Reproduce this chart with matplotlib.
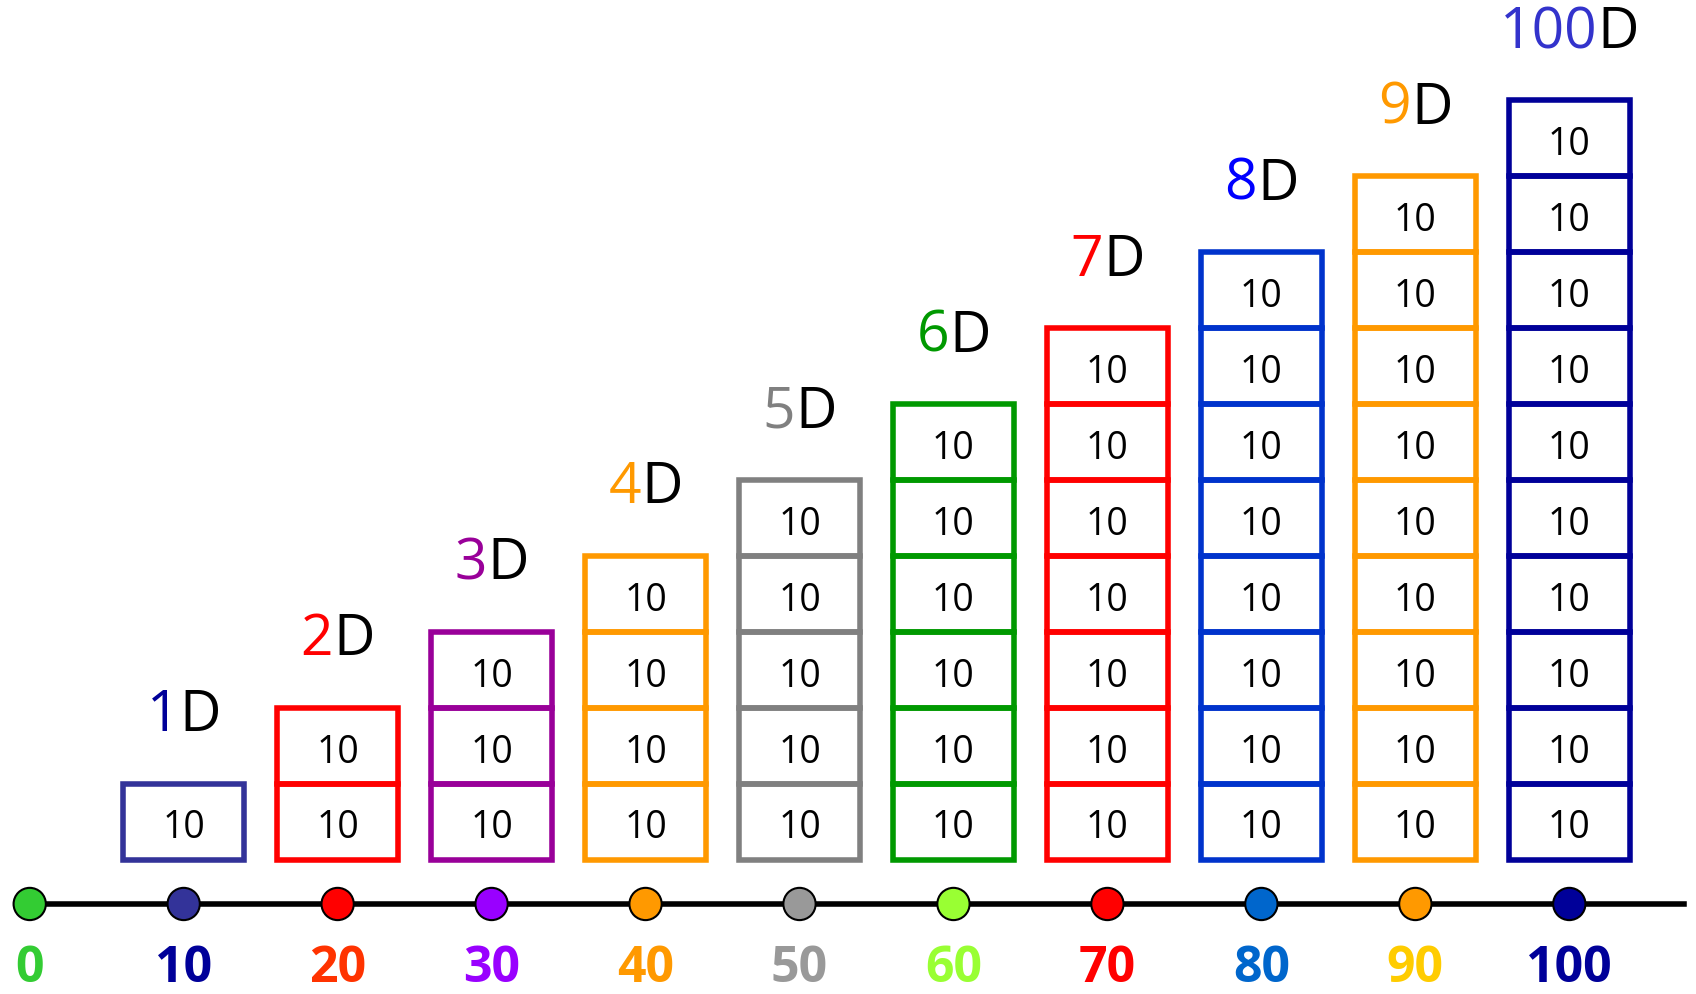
import matplotlib.pyplot as plt
from matplotlib.offsetbox import AnnotationBbox, HPacker, TextArea

plt.rcParams['font.family'] = ['Open Sans', 'DejaVu Sans']

# number line
line_values = [0, 10, 20, 30, 40, 50, 60, 70, 80, 90, 100]
dot_colors = ['#33CC33', '#333399', '#FF0000', '#9900FF', '#FF9900', '#999999',
              '#99FF33', '#FF0000', '#0066CC', '#FF9900', '#000099']
tick_colors = ['#33CC33', '#000099', '#FF3300', '#9900FF', '#FF9900', '#999999',
               '#99FF33', '#FF0000', '#0066CC', '#FFCC00', '#000099']

# stacks of tens
stack_totals = [10, 20, 30, 40, 50, 60, 70, 80, 90, 100]
cell_value = 10
dim_numbers = ['1', '2', '3', '4', '5', '6', '7', '8', '9', '100']
box_colors = ['#333399', '#FF0000', '#990099', '#FF9900', '#808080',
              '#009900', '#FF0000', '#0033CC', '#FF9900', '#000099']
number_colors = ['#000099', '#FF0000', '#990099', '#FF9900', '#808080',
                 '#009900', '#FF0000', '#0000FF', '#FF9900', '#3333CC']

fig = plt.figure(figsize=(16.96, 9.95), dpi=100)
ax = fig.add_axes([0, 0, 1, 1])
ax.set_xlim(-1.93, 108.23)
ax.set_ylim(-17.72, 113.37)
ax.axis('off')

line_y = -5.86
bar_w = 7.86

for x, total, color in zip(stack_totals, stack_totals, box_colors):
    bottom = 0
    while bottom < total:
        ax.bar(x, cell_value, bottom=bottom, width=bar_w, fill=False,
               edgecolor=color, linewidth=4, zorder=2)
        ax.text(x, bottom + 2.9, str(cell_value), ha='center', va='baseline',
                fontsize=27, color='black', zorder=3)
        bottom += cell_value

for x, total, num, ncol in zip(stack_totals, stack_totals, dim_numbers, number_colors):
    parts = HPacker(children=[
        TextArea(num, textprops=dict(color=ncol, fontsize=41)),
        TextArea('D', textprops=dict(color='black', fontsize=41)),
    ], align='baseline', pad=0, sep=0)
    ab = AnnotationBbox(parts, (x, total + 5.2), box_alignment=(0.5, 0.0),
                        frameon=False, pad=0)
    ax.add_artist(ab)

ax.plot([0, 107.45], [line_y, line_y], color='black', linewidth=4, zorder=1)
ax.scatter(line_values, [line_y] * len(line_values), s=540, c=dot_colors,
           edgecolors='black', linewidths=1.5, zorder=4)

for v, c in zip(line_values, tick_colors):
    ax.text(v, -15.97, str(v), ha='center', va='baseline', fontsize=36,
            fontweight='bold', color=c)

fig.savefig('out.png', dpi=100)
